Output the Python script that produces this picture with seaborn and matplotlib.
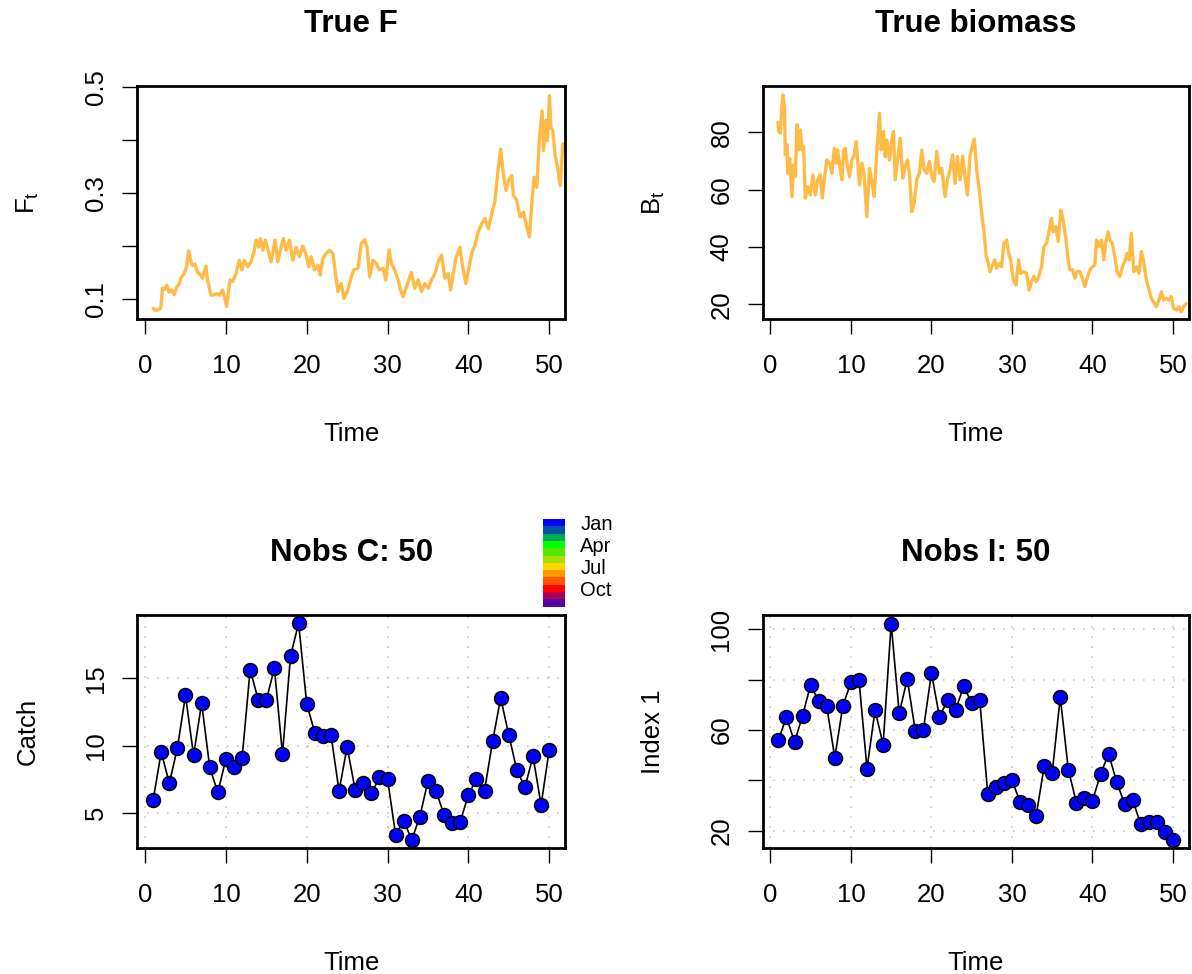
import numpy as np
import matplotlib
matplotlib.use("Agg")
import matplotlib.pyplot as plt
import seaborn as sns
from matplotlib.colors import ListedColormap

# true F trace
f_time = [0.99, 1.32, 1.74, 1.94, 2.15, 2.40, 2.69, 2.98, 3.31, 3.60,
          3.89, 4.22, 4.43, 4.84, 5.13, 5.38, 5.67, 5.87, 6.16, 6.49,
          6.78, 7.11, 7.53, 7.73, 8.15, 8.56, 8.85, 9.18, 9.60, 10.09,
          10.50, 10.84, 11.25, 11.66, 11.99, 12.28, 12.70, 13.11, 13.52, 13.73,
          14.06, 14.27, 14.56, 14.89, 15.18, 15.59, 16.09, 16.42, 16.83, 17.12,
          17.45, 17.87, 18.28, 18.69, 19.11, 19.52, 19.93, 20.22, 20.55, 20.97,
          21.38, 21.67, 22.00, 22.42, 22.83, 23.24, 23.66, 23.86, 24.28, 24.61,
          25.10, 25.52, 25.81, 26.34, 26.76, 27.17, 27.46, 27.79, 28.21, 28.62,
          28.95, 29.45, 29.78, 30.19, 30.48, 30.89, 31.31, 31.60, 31.93, 32.34,
          32.96, 33.37, 33.79, 34.20, 34.62, 35.03, 35.44, 35.86, 36.27, 36.68,
          37.10, 37.51, 37.80, 38.13, 38.46, 38.96, 39.29, 39.70, 39.99, 40.41,
          40.82, 41.23, 41.65, 42.06, 42.47, 42.89, 43.30, 43.71, 44.00, 44.33,
          44.67, 44.95, 45.37, 45.57, 45.99, 46.40, 46.82, 47.23, 47.56, 47.85,
          48.14, 48.47, 48.80, 49.13, 49.30, 49.63, 49.79, 50.04, 50.21, 50.45,
          50.74, 51.03, 51.37, 51.70]
f_vals = [0.082, 0.078, 0.081, 0.083, 0.120, 0.118, 0.126, 0.113, 0.117, 0.108,
          0.122, 0.128, 0.140, 0.148, 0.160, 0.191, 0.170, 0.163, 0.166, 0.150,
          0.147, 0.139, 0.162, 0.136, 0.107, 0.108, 0.110, 0.107, 0.117, 0.086,
          0.136, 0.133, 0.148, 0.173, 0.155, 0.173, 0.161, 0.170, 0.192, 0.211,
          0.198, 0.214, 0.192, 0.211, 0.195, 0.170, 0.211, 0.170, 0.198, 0.214,
          0.192, 0.211, 0.173, 0.198, 0.180, 0.200, 0.183, 0.161, 0.180, 0.155,
          0.164, 0.145, 0.177, 0.186, 0.192, 0.186, 0.136, 0.114, 0.129, 0.101,
          0.117, 0.142, 0.155, 0.158, 0.205, 0.212, 0.198, 0.142, 0.173, 0.167,
          0.155, 0.158, 0.136, 0.193, 0.167, 0.155, 0.136, 0.117, 0.104, 0.123,
          0.150, 0.120, 0.136, 0.114, 0.129, 0.120, 0.136, 0.148, 0.170, 0.183,
          0.139, 0.148, 0.117, 0.148, 0.177, 0.198, 0.161, 0.129, 0.152, 0.186,
          0.202, 0.227, 0.242, 0.252, 0.233, 0.261, 0.286, 0.349, 0.383, 0.336,
          0.305, 0.324, 0.333, 0.296, 0.286, 0.255, 0.264, 0.236, 0.217, 0.280,
          0.330, 0.311, 0.405, 0.455, 0.380, 0.437, 0.399, 0.484, 0.424, 0.418,
          0.371, 0.349, 0.314, 0.393]

# true biomass trace
b_time = [0.95, 1.03, 1.24, 1.45, 1.57, 1.74, 1.86, 2.07, 2.15, 2.40,
          2.69, 2.89, 3.10, 3.31, 3.51, 3.72, 3.93, 4.13, 4.34, 4.63,
          4.96, 5.29, 5.58, 5.87, 6.20, 6.45, 6.69, 7.02, 7.36, 7.64,
          7.93, 8.18, 8.35, 8.60, 8.88, 9.09, 9.30, 9.50, 9.83, 10.12,
          10.41, 10.66, 10.83, 11.07, 11.36, 11.65, 11.98, 12.31, 12.60, 12.89,
          13.22, 13.55, 13.76, 14.05, 14.26, 14.46, 14.79, 15.08, 15.29, 15.50,
          15.79, 16.12, 16.45, 16.74, 17.02, 17.27, 17.56, 17.85, 18.18, 18.51,
          18.80, 19.09, 19.42, 19.75, 20.04, 20.33, 20.66, 20.99, 21.28, 21.69,
          21.98, 22.31, 22.64, 22.93, 23.22, 23.55, 23.88, 24.17, 24.46, 24.79,
          25.12, 25.33, 25.62, 25.95, 26.24, 26.53, 26.78, 27.07, 27.27, 27.60,
          27.89, 28.10, 28.43, 28.72, 29.01, 29.34, 29.59, 29.83, 30.17, 30.50,
          30.83, 31.07, 31.40, 31.82, 32.15, 32.44, 32.73, 32.98, 33.26, 33.68,
          33.97, 34.30, 34.63, 34.92, 35.12, 35.45, 35.74, 36.07, 36.36, 36.69,
          36.98, 37.19, 37.52, 37.81, 38.10, 38.43, 38.76, 39.05, 39.34, 39.67,
          40.00, 40.29, 40.50, 40.83, 41.12, 41.40, 41.65, 41.94, 42.15, 42.48,
          42.77, 43.06, 43.39, 43.72, 44.01, 44.30, 44.55, 44.83, 45.12, 45.45,
          45.79, 46.07, 46.36, 46.69, 47.02, 47.31, 47.60, 47.93, 48.26, 48.55,
          48.84, 49.17, 49.50, 49.79, 50.08, 50.41, 50.74, 51.03, 51.32, 51.65]
b_vals = [83.4, 80.2, 79.7, 90.1, 93.0, 89.0, 72.1, 75.6, 65.7, 70.9,
          57.6, 68.6, 64.5, 82.6, 73.8, 80.8, 73.8, 75.0, 57.0, 61.0,
          58.1, 65.1, 58.1, 63.4, 65.1, 57.0, 63.4, 70.3, 69.2, 65.7,
          74.4, 69.2, 73.8, 68.6, 63.4, 73.3, 74.4, 69.2, 64.5, 70.3,
          72.1, 76.7, 70.3, 61.6, 69.2, 65.1, 50.6, 67.4, 62.8, 57.6,
          73.3, 86.6, 73.8, 80.2, 71.5, 77.3, 70.3, 77.3, 80.2, 63.4,
          70.3, 77.9, 64.0, 68.0, 70.3, 65.7, 52.3, 55.2, 63.4, 65.7,
          73.8, 66.9, 65.7, 69.8, 64.5, 62.8, 73.3, 65.7, 67.4, 57.6,
          63.4, 66.9, 72.1, 62.2, 71.5, 63.4, 71.7, 64.5, 58.1, 71.5,
          75.6, 77.6, 66.9, 59.9, 51.7, 45.3, 37.2, 34.3, 31.4, 33.7,
          35.5, 32.6, 34.3, 33.1, 41.3, 42.4, 37.8, 35.5, 28.5, 26.7,
          35.5, 30.8, 31.4, 30.8, 25.0, 27.9, 29.7, 27.9, 29.1, 33.1,
          40.1, 41.3, 45.9, 50.0, 45.3, 47.1, 41.9, 52.9, 49.4, 43.0,
          35.5, 32.0, 32.0, 29.1, 31.4, 31.4, 29.1, 26.2, 29.1, 32.0,
          33.1, 33.7, 42.4, 40.1, 42.4, 35.5, 41.3, 45.3, 42.4, 41.3,
          36.6, 31.4, 29.7, 33.1, 34.9, 37.8, 35.5, 44.8, 31.4, 33.1,
          30.8, 38.4, 34.9, 28.5, 25.0, 22.1, 20.9, 19.2, 21.5, 24.4,
          21.5, 22.1, 21.5, 22.7, 18.6, 18.0, 19.2, 17.4, 19.2, 20.3]

# observations
obs_time = list(range(1, 51))
catch_obs = [5.95, 9.53, 7.19, 9.83, 13.73, 9.28, 13.16, 8.37, 6.52, 8.99,
             8.42, 9.04, 15.65, 13.41, 13.36, 15.78, 9.36, 16.69, 19.09, 13.11,
             10.96, 10.69, 10.81, 6.62, 9.90, 6.69, 7.23, 6.44, 7.63, 7.51,
             3.36, 4.40, 2.99, 4.72, 7.36, 6.64, 4.84, 4.27, 4.35, 6.32,
             7.51, 6.64, 10.32, 13.53, 10.81, 8.17, 6.89, 9.21, 5.58, 9.65]
index_obs = [56.1, 65.1, 55.2, 65.7, 78.0, 71.4, 69.4, 49.0, 69.6, 78.9,
             80.0, 44.7, 67.9, 54.2, 102.2, 66.7, 80.2, 59.6, 60.1, 82.5,
             65.3, 71.7, 68.0, 77.3, 70.8, 71.7, 34.5, 37.4, 39.1, 40.1,
             31.5, 30.2, 25.8, 45.6, 43.0, 73.0, 44.3, 31.2, 32.8, 31.9,
             42.4, 50.6, 39.4, 30.6, 32.1, 22.5, 23.6, 23.6, 19.4, 16.3]

month_cols = ["#0000FF", "#0055A5", "#00AA55", "#00FF00", "#55E600", "#AADD00",
              "#FFD700", "#FF9900", "#FF5500", "#FF0000", "#AA0055", "#5500AA"]
month_labs = ["Jan", "", "", "Apr", "", "", "Jul", "", "", "Oct", "", ""]

sns.set_style("white")
plt.rcParams["font.family"] = ["Liberation Sans", "DejaVu Sans"]
plt.rcParams["mathtext.default"] = "regular"
for k in ["text.color", "axes.labelcolor", "xtick.color", "ytick.color"]:
    plt.rcParams[k] = "black"

fig = plt.figure(figsize=(11.92, 9.74), dpi=100)
ax_f = fig.add_axes([0.1152, 0.6722, 0.3588, 0.2395])
ax_b = fig.add_axes([0.6398, 0.6722, 0.3575, 0.2395])
ax_c = fig.add_axes([0.1152, 0.1291, 0.3588, 0.2395])
ax_i = fig.add_axes([0.6398, 0.1291, 0.3575, 0.2395])

line_col = "#FFBB47"
sns.lineplot(x=f_time, y=f_vals, ax=ax_f, color=line_col, linewidth=2.4)
sns.lineplot(x=b_time, y=b_vals, ax=ax_b, color=line_col, linewidth=2.4)

pt_kw = dict(color="black", linewidth=1.2, marker="o", markersize=10,
             markerfacecolor="blue", markeredgecolor="black", markeredgewidth=1.1)
sns.lineplot(x=obs_time, y=catch_obs, ax=ax_c, **pt_kw)
sns.lineplot(x=obs_time, y=index_obs, ax=ax_i, **pt_kw)


def style_panel(ax, title, ylab, yticks, ylabels, ylim):
    ax.set_xlim(-0.96, 51.96)
    ax.set_ylim(*ylim)
    ax.set_xticks(range(0, 51, 10))
    ax.set_yticks(yticks)
    ax.set_yticklabels(ylabels, rotation=90, va="center")
    ax.tick_params(axis="both", direction="out", length=11, width=1,
                   labelsize=18.5, bottom=True, left=True)
    ax.tick_params(axis="x", pad=14)
    ax.tick_params(axis="y", pad=10)
    for sp in ax.spines.values():
        sp.set_linewidth(2)
        sp.set_color("black")
    ax.set_title(title, fontsize=22.5, fontweight="bold", y=1.195, va="baseline")
    ax.set_xlabel("Time", fontsize=18.5)
    ax.xaxis.set_label_coords(0.5, -0.52)
    ax.xaxis.label.set_va("baseline")
    ax.set_ylabel(ylab, fontsize=18.5)
    ax.yaxis.set_label_coords(-0.24, 0.5)
    ax.yaxis.label.set_va("baseline")


style_panel(ax_f, "True F", "$F_t$", [0.1, 0.2, 0.3, 0.4, 0.5],
            ["0.1", "", "0.3", "", "0.5"], (0.0617, 0.502))
style_panel(ax_b, "True biomass", "$B_t$", [20, 40, 60, 80],
            ["20", "40", "60", "80"], (14.8, 96.1))
style_panel(ax_c, "Nobs C: 50", "Catch", [5, 10, 15],
            ["5", "10", "15"], (2.36, 19.72))
style_panel(ax_i, "Nobs I: 50", "Index 1", [20, 40, 60, 80, 100],
            ["20", "", "60", "", "100"], (13.04, 105.65))

for ax in (ax_c, ax_i):
    ax.grid(True, color="#C8C8C8", linestyle=(0, (1, 5)), linewidth=1.2)

# month colour key
ax_leg = fig.add_axes([0.4553, 0.3771, 0.0187, 0.09])
sns.heatmap(np.arange(12).reshape(12, 1), cmap=ListedColormap(month_cols),
            cbar=False, ax=ax_leg, xticklabels=False, yticklabels=month_labs)
ax_leg.yaxis.tick_right()
ax_leg.tick_params(axis="y", length=0, labelsize=14.5, pad=11, rotation=0)

fig.savefig("out.png", dpi=100)
